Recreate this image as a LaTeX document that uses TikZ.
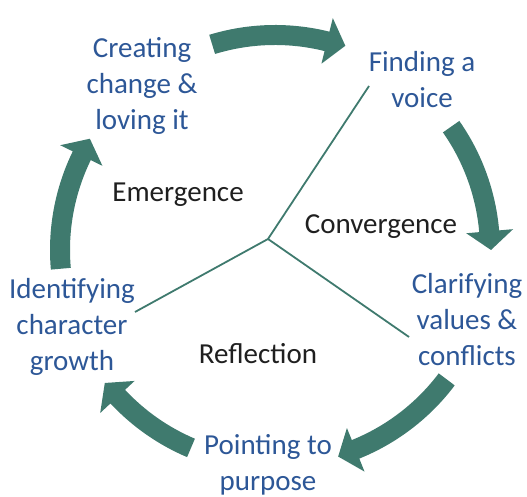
\documentclass[tikz,border=0pt]{standalone}
\usepackage{fontspec}
\setmainfont{Carlito}
\usetikzlibrary{calc}
\definecolor{turnteal}{HTML}{3F7A6E}
\definecolor{stageblue}{HTML}{2D5797}
\tikzset{
    stage/.style={text=stageblue, align=center, inner sep=0pt, font=\fontsize{29}{36}\selectfont},
    phase/.style={text=black!88, inner sep=0pt, font=\fontsize{29}{36}\selectfont},
    spoke/.style={draw=turnteal, line width=1.8pt},
    turn/.style={fill=turnteal},
  }
\begin{document}
\begin{tikzpicture}[x=1pt,y=1pt]
  %cadre
  \useasboundingbox (0,0) rectangle (527,497);
  \coordinate(C) at (275,247);
  \coordinate(J) at (268,258);
  \coordinate(V) at (369,411);
  \coordinate(G) at (135,185);
  \coordinate(K) at (409,160);

  \draw[spoke] (V) -- (J) -- (G) (J) -- (K);
  %fleches courbes : queue / pointe
  \foreach \t/\p in {107/71,35/0,-37/-73,-113/-142,185/149}{
    \fill[turn,shift={(C)}] (\t:225) arc[start angle=\t, end angle={\p+5}, radius=225]
      -- ({\p+5}:239) -- (\p:216) -- ({\p+5}:192) -- ({\p+5}:205)
      arc[start angle={\p+5}, end angle=\t, radius=205] -- cycle;
  }

  \node[stage] (create) at (142,411) {Creating\\change \&\\loving it};
  \node[stage] (voice) at (422,417) {Finding a\\voice};
  \node[stage] (clarify) at (467,177) {Clarifying\\values \&\\conflicts};
  \node[stage] (purpose) at (268,32) {Pointing to\\purpose};
  \node[stage] (growth) at (72,170) {Identifying\\character\\growth};
  \node[phase] (emerge) at (178,302) {Emergence};
  \node[phase] (converge) at (381,270) {Convergence};
  \node[phase] (reflect) at (258,143) {Reflection};
\end{tikzpicture}
\end{document}
